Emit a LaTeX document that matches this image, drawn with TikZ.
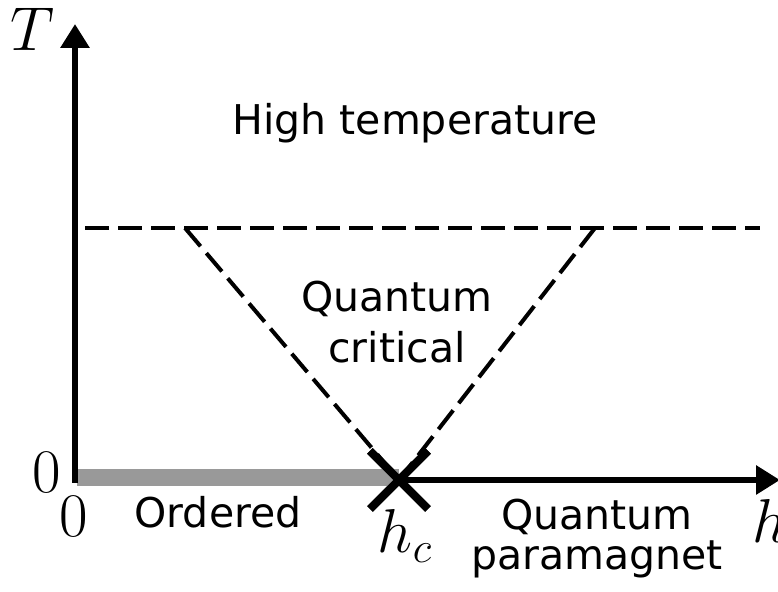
\RequirePackage{fix-cm}
\documentclass[tikz,border=0pt]{standalone}
\usepackage{fontspec}
\setsansfont{DejaVu Sans}
\usetikzlibrary{arrows.meta,shapes.misc}
\definecolor{pdaxis}{RGB}{0,0,0}
\definecolor{pdorder}{RGB}{153,153,153}
\tikzset{
  axis/.style={draw=pdaxis, line width=3.2pt, -{Triangle[length=12pt,width=14pt]}},
  border/.style={draw=pdaxis, line width=2pt, dash pattern=on 12pt off 4.5pt},
  orderbar/.style={draw=pdorder, line width=8.5pt},
  qcp/.style={cross out, draw=pdaxis, line width=4pt, minimum size=25pt, inner sep=0pt},
  region/.style={font=\sffamily\fontsize{20.5}{20}\selectfont, align=center, inner sep=0pt},
  mlbl/.style={font=\fontsize{31}{36}\selectfont, inner sep=0pt}
}
\begin{document}
\begin{tikzpicture}[x=0.5pt, y=-0.5pt]
  \useasboundingbox (0,0) rectangle (778,592);
  % axes and points
  \coordinate (origin) at (75,483);
  \coordinate (ttip) at (75,24);
  \coordinate (barl) at (77,478);
  \coordinate (htip) at (780,480);
  \coordinate (dl) at (85,228);
  \coordinate (dr) at (760,228);
  \coordinate (lt) at (185,228);
  \coordinate (rt) at (595,228);
  \node[qcp] (hc) at (399,480) {};
  \draw[orderbar] (barl) -- (barl -| hc);
  \draw[axis] (origin) -- (ttip);
  \draw[axis] (hc.center) -- (htip);
  % crossover lines
  \draw[border] (dl) -- (dr);
  \draw[border] (lt) -- (hc.center);
  \draw[border] (rt) -- (hc.center);
  \node[qcp] at (hc) {};
  % labels
  \node[mlbl, anchor=base] (tlab) at (33,51) {$T$};
  \node[mlbl, anchor=base] (zt) at (47,493) {$0$};
  \node[mlbl, anchor=base] (zh) at (74,537) {$0$};
  \node[mlbl, anchor=base] (hclab) at (405,553) {$h_c$};
  \node[mlbl, anchor=base] (hlab) at (770,543) {$h$};
  \node[region, anchor=base] (hot) at (415,135) {High temperature};
  \node[region, anchor=base, font=\sffamily\fontsize{20.5}{25.5}\selectfont] (crit) at (397,363) {Quantum\\critical};
  \node[region, anchor=base] (ord) at (218,528) {Ordered};
  \node[region, anchor=base] (para) at (597,570) {Quantum\\paramagnet};
\end{tikzpicture}
\end{document}
